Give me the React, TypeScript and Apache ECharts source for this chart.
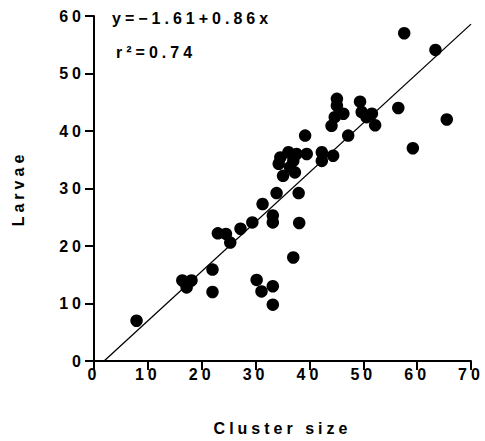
import React, { useEffect, useRef } from "react";
import * as echarts from "echarts";

const clusterSize = [
  7.9, 16.4, 17.2, 18.1, 22.0, 22.0, 23.0, 24.5, 25.3, 27.2, 29.4, 31.3, 30.2, 31.1,
  33.2, 33.2, 33.2, 33.2, 33.9, 37.0, 38.0, 38.1, 34.3, 34.6, 35.1, 36.1, 36.4, 37.0,
  37.3, 37.6, 39.5, 39.2, 42.3, 42.3, 44.4, 44.1, 44.7, 45.1, 45.1, 46.3, 47.2, 49.4,
  49.7, 51.6, 50.6, 52.2, 56.5, 57.6, 59.2, 63.4, 65.5,
];
const larvae = [
  7.0, 14.0, 12.8, 14.0, 15.9, 12.0, 22.2, 22.1, 20.6, 23.0, 24.1, 27.3, 14.1, 12.1,
  13.0, 9.8, 25.3, 24.1, 29.2, 18.0, 29.2, 24.0, 34.3, 35.4, 32.2, 36.3, 33.7, 34.8,
  32.8, 36.0, 36.0, 39.2, 36.3, 34.8, 35.7, 40.9, 42.4, 44.4, 45.6, 43.0, 39.2, 45.1,
  43.3, 43.0, 42.4, 41.0, 44.0, 57.0, 37.0, 54.1, 42.0,
];
const regression = { intercept: -1.61, slope: 0.86, r2: 0.74 };
const xRange = [0, 70];
const yRange = [0, 60];

export default function App() {
  const ref = useRef<HTMLDivElement>(null);
  useEffect(() => {
    if (!ref.current) return;
    const chart = echarts.init(ref.current, undefined, { renderer: "svg" });
    const x0 = -regression.intercept / regression.slope;
    const x1 = xRange[1];
    const lineData = [
      [x0, regression.intercept + regression.slope * x0],
      [x1, regression.intercept + regression.slope * x1],
    ];
    const font = "'Liberation Sans', Arial, sans-serif";
    const axisCommon = {
      axisLine: { show: true, onZero: false, lineStyle: { color: "#000", width: 2 } },
      axisTick: { show: true, inside: false, length: 9, lineStyle: { color: "#000", width: 2 } },
      splitLine: { show: false },
    };
    chart.setOption({
      animation: false,
      grid: { left: 94, right: 14, top: 16, bottom: 80 },
      xAxis: {
        type: "value",
        min: xRange[0],
        max: xRange[1],
        interval: 10,
        ...axisCommon,
        axisLabel: { color: "#000", fontSize: 16, fontWeight: "bold", fontFamily: font, margin: 5 },
        name: "Cluster size",
        nameLocation: "middle",
        nameGap: 59,
        nameTextStyle: { color: "#000", fontSize: 16, fontWeight: "bold", fontFamily: font },
      },
      yAxis: {
        type: "value",
        min: yRange[0],
        max: yRange[1],
        interval: 10,
        ...axisCommon,
        axisLabel: { color: "#000", fontSize: 16, fontWeight: "bold", fontFamily: font, margin: 9 },
        name: "Larvae",
        nameLocation: "middle",
        nameGap: 68,
        nameRotate: 90,
        nameTextStyle: { color: "#000", fontSize: 16, fontWeight: "bold", fontFamily: font },
      },
      graphic: [
        {
          type: "text",
          left: 112,
          top: 10,
          style: {
            text: `y=−${Math.abs(regression.intercept).toFixed(2)}+${regression.slope.toFixed(2)}x`,
            fill: "#000",
            font: `bold 16px ${font}`,
          },
        },
        {
          type: "text",
          left: 116,
          top: 44,
          style: {
            text: `r²=${regression.r2.toFixed(2)}`,
            fill: "#000",
            font: `bold 16px ${font}`,
          },
        },
      ],
      series: [
        {
          type: "line",
          data: lineData,
          symbol: "none",
          lineStyle: { color: "#000", width: 1.3 },
          z: 1,
        },
        {
          type: "scatter",
          data: clusterSize.map((x, i) => [x, larvae[i]]),
          symbol: "circle",
          symbolSize: 12.5,
          itemStyle: { color: "#000", opacity: 1 },
          z: 2,
        },
      ],
    });
    return () => chart.dispose();
  }, []);
  return (
    <>
      <style>{".chart text{letter-spacing:4px}"}</style>
      <div
        ref={ref}
        className="chart"
        style={{ position: "fixed", left: 0, top: 0, width: 485, height: 441, background: "#fff" }}
      />
    </>
  );
}
